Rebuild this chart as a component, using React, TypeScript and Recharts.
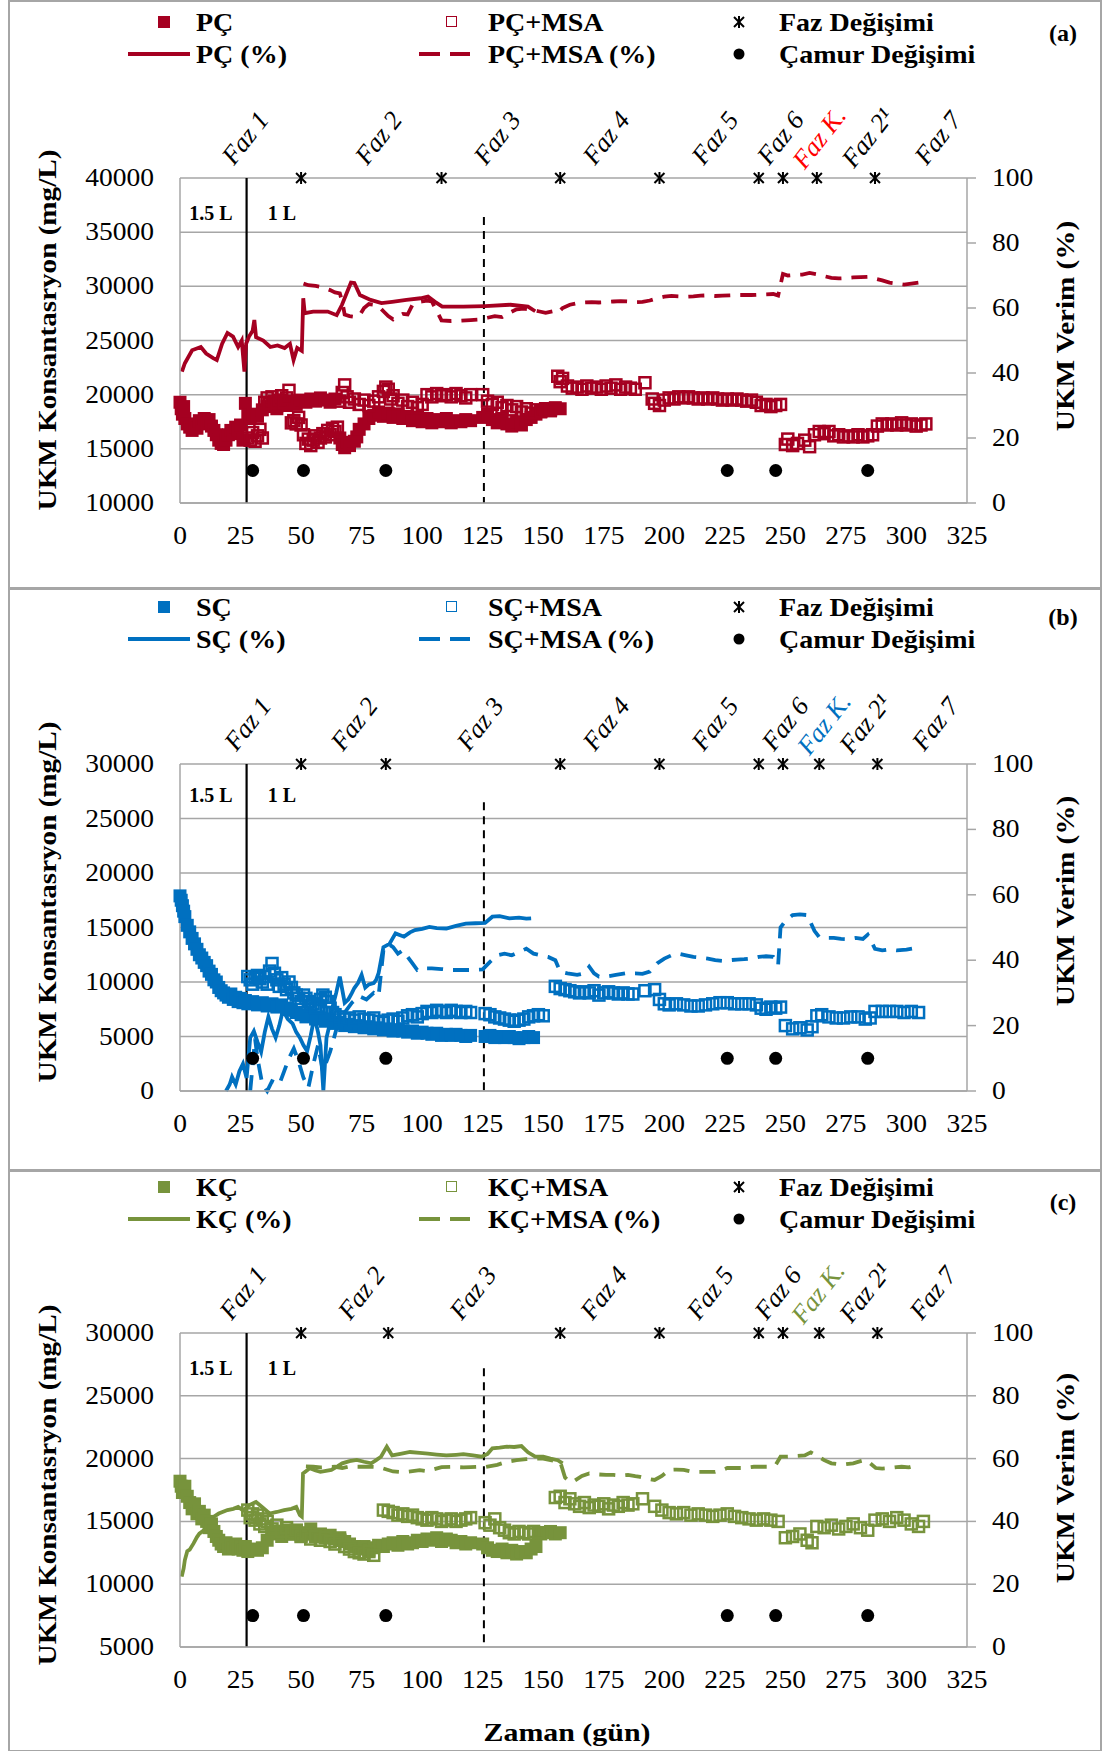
import React from 'react'
import { ComposedChart, Scatter, Line, XAxis, YAxis, CartesianGrid, ReferenceLine } from 'recharts'

type Pt = [number, number]

const FONT = '"Liberation Serif", "Times New Roman", serif'
const GRID = '#a6a6a6'

const dayTicks = [0, 25, 50, 75, 100, 125, 150, 175, 200, 225, 250, 275, 300, 325]
const pctTicks = [0, 20, 40, 60, 80, 100]
const phaseNames = ['Faz 1', 'Faz 2', 'Faz 3', 'Faz 4', 'Faz 5', 'Faz 6', 'Faz K.', 'Faz 2¹', 'Faz 7']
const sludgeDays = [30, 51, 85, 226, 246, 284]
const volumeLineDay = 27.5
const dashLineDay = 125.5

// ---- (a) PÇ
const aTicks = [10000, 15000, 20000, 25000, 30000, 35000, 40000]
const aStars = [50, 108, 157, 198, 239, 249, 263, 287]
const aPhaseAt = [27, 82, 131, 176, 221, 248, 264, 284, 313]
const aDashTop = 36400
const aFilled: Pt[] = [[0,19300],[0.5,18700],[1,18200],[1.5,18900],[2,17800],[3,17300],[4,17000],[5,16700],[6,17200],[7,16900],[8,17600],[9,17300],[10,17800],[11,17400],[12,17700],[13,17100],[14,16700],[15,16300],[16,15800],[17,15500],[18,15400],[19,15800],[20,16300],[21,16700],[22,16400],[23,17000],[24,16700],[25,17200],[26,15800],[27,19200],[28,18100],[29,17800],[30,18200],[32,18000],[34,18600],[36,18900],[38,19100],[40,18700],[42,19200],[44,19000],[46,19400],[48,19100],[50,19500],[52,19300],[54,19600],[56,19400],[58,19700],[60,19500],[62,19300],[64,19600],[66,16000],[67,15400],[68,15100],[69,15600],[70,15300],[72,15700],[73,16100],[74,16800],[76,17300],[78,17800],[80,18100],[82,18400],[84,18000],[86,18300],[88,17900],[90,18200],[92,17800],[94,18000],[96,17600],[98,17900],[100,17500],[102,17800],[104,17400],[106,17700],[108,17500],[110,17800],[112,17400],[114,17600],[116,17500],[118,17700],[120,17600],[125,17900],[127,18200],[129,17700],[131,17400],[133,17800],[135,17300],[137,17100],[139,17500],[141,17200],[143,17700],[145,17900],[147,18200],[149,18400],[151,18600],[153,18500],[155,18800],[157,18700]]
const aOpen: Pt[] = [[28,16000],[29,15800],[30,16500],[31,15700],[32,16200],[33,16800],[34,16000],[35,19300],[36,19700],[37,19200],[38,19800],[39,19400],[40,19000],[41,19500],[42,19900],[43,19300],[44,19700],[45,20400],[46,17400],[47,17600],[48,17300],[49,17900],[50,17200],[51,16300],[52,15500],[53,15900],[54,15300],[55,15800],[56,16200],[57,15600],[58,16000],[59,16400],[60,16100],[61,16700],[62,16300],[63,16900],[64,16600],[65,17000],[66,19400],[67,20200],[68,20900],[69,19800],[70,19300],[72,19600],[74,19100],[76,19500],[78,19000],[80,19400],[82,19800],[84,20300],[85,20700],[86,20500],[87,19600],[88,19900],[90,19200],[92,19500],[94,18900],[96,19300],[98,18800],[100,19100],[102,20000],[104,19800],[106,20100],[108,19900],[110,20000],[112,19800],[114,20100],[116,19900],[118,19700],[120,20000],[125,20000],[127,19400],[129,19100],[131,19300],[133,18800],[135,19000],[137,18600],[139,18900],[141,18400],[143,18700],[145,18300],[147,18600],[149,18500],[151,18700],[153,18600],[156,21700],[157,21200],[158,21500],[160,20800],[162,20600],[164,20700],[166,20500],[168,20800],[170,20600],[172,20700],[174,20500],[176,20800],[178,20600],[180,20900],[182,20500],[184,20700],[186,20600],[188,20500],[192,21100],[195,19600],[196,19200],[198,19000],[200,19500],[202,19700],[204,19600],[206,19800],[208,19700],[210,19800],[212,19700],[214,19600],[216,19700],[218,19600],[220,19700],[222,19600],[224,19500],[226,19600],[228,19500],[230,19600],[232,19500],[234,19400],[236,19500],[238,19300],[240,19000],[242,19100],[244,18900],[246,19000],[248,19100],[250,15400],[251,15900],[253,15300],[255,15500],[258,15800],[260,15200],[262,16300],[264,16600],[266,16400],[268,16600],[270,16200],[272,16300],[274,16100],[276,16200],[278,16100],[280,16300],[282,16100],[284,16200],[286,16300],[288,17100],[290,17300],[292,17200],[294,17300],[296,17200],[298,17400],[300,17200],[302,17300],[304,17100],[306,17200],[308,17300]]
const aPct: Pt[] = [[0.8,40.4],[2,43],[5,47],[8.6,48],[10.8,46],[13.7,44.6],[15.2,44],[17.4,49],[19.6,52.3],[21.9,51.2],[24,48],[25.5,50],[26.6,40.4],[27.3,49],[28.5,51.2],[30,53],[30.7,56.3],[31.4,51],[34.4,50],[37.3,48],[40.3,48.5],[43.2,47.7],[45.4,49],[46.9,44],[48.4,47.7],[50.3,46.8],[50.9,63],[51.5,58.4],[55,58.9],[61,58.9],[64.7,57.8],[66.9,61],[70.6,67.8],[72,67.7],[74.3,64],[78.7,62.5],[83.2,61.5],[87.6,61.9],[93.5,62.5],[99.4,63],[102.4,63.5],[105.3,61.9],[108.3,60.4],[117,60.4],[126,60.6],[136.4,61],[143.7,60.4],[146.7,59]]
const aPctMsa: Pt[] = [[51,67.5],[53,67],[56,66.8],[58,66.5],[60,66],[62,65.5],[64,64.8],[66,64.5],[67,62],[68,58],[70,57.5],[72,57.3],[74,57.5],[76,60],[78,61.2],[80,61],[82,60.5],[84,59],[86,57.5],[88,56.5],[90,57.5],[92,58.2],[94,58],[96,61],[98,61.8],[100,62],[102,62.3],[104,62],[108,56.2],[112,56],[116,56.1],[120,56.3],[124,56.5],[127,57],[130,57.5],[133,57.2],[136,58.5],[139,59.6],[142,59.8],[145,59.5],[148,59],[151,58.5],[154,59],[156,58.5],[158,60],[161,61],[164,61.5],[167,61.7],[170,61.8],[173,61.7],[176,61.8],[179,62],[182,62.1],[185,62],[188,61.8],[191,61.9],[194,62.3],[197,63],[200,63.5],[203,63.7],[206,63.6],[209,63.5],[212,63.6],[215,63.8],[218,63.9],[221,63.7],[224,63.8],[227,63.9],[230,64],[233,64],[236,64],[239,64.1],[242,64.2],[245,64.3],[247,63.8],[249,70.5],[251,70],[254,70.2],[257,70.3],[260,70.8],[263,70.4],[266,69.8],[269,69.3],[272,69.1],[275,69.2],[278,69.4],[281,69.5],[284,69.6],[287,69],[290,68.5],[293,67.8],[296,67.5],[299,67.2],[302,67.5],[305,67.8]]

// ---- (b) SÇ
const bTicks = [0, 5000, 10000, 15000, 20000, 25000, 30000]
const bStars = [50, 85, 157, 198, 239, 249, 264, 288]
const bPhaseAt = [28, 72, 124, 176, 221, 250, 266, 283, 312]
const bDashTop = 26500
const bFilled: Pt[] = [[0,17900],[0.5,17500],[1,17000],[1.5,16500],[2,16000],[3,15200],[4,14600],[5,14000],[6,13500],[7,13000],[8,12500],[9,12200],[10,11800],[11,11500],[12,11000],[13,10700],[14,10200],[15,10000],[16,9500],[17,9200],[18,9000],[19,8800],[20,8600],[21,8900],[22,8400],[23,8600],[24,8200],[25,8500],[26,8100],[27,8300],[28,8000],[30,8200],[32,7900],[34,8100],[36,7800],[38,8000],[40,7700],[42,7900],[44,7600],[46,7400],[48,7200],[50,7000],[52,6800],[54,6900],[56,6600],[58,6700],[60,6400],[62,6500],[64,6200],[66,6300],[68,6000],[70,6100],[72,5900],[74,6000],[76,5800],[78,5900],[80,5700],[82,5800],[84,5600],[86,5700],[88,5500],[90,5600],[92,5500],[94,5400],[96,5500],[98,5300],[100,5400],[102,5300],[104,5200],[106,5300],[108,5100],[110,5200],[112,5100],[114,5200],[116,5100],[118,5000],[120,5100],[126,5000],[128,5100],[130,4900],[132,5000],[134,4900],[136,5000],[138,4900],[140,4800],[142,4900],[144,5000],[146,4900]]
const bOpen: Pt[] = [[28,10500],[29,10200],[30,9800],[31,10400],[32,10600],[33,10300],[34,10000],[35,10500],[36,9800],[37,11000],[38,11700],[39,10800],[40,10200],[41,9600],[42,10400],[43,9800],[44,9300],[45,10000],[46,9500],[47,9000],[48,8800],[49,8500],[50,8200],[51,8800],[52,8500],[53,8200],[54,7800],[55,8000],[56,7600],[57,7800],[58,8400],[59,8800],[60,8600],[61,8200],[62,7600],[63,7200],[64,7000],[66,6800],[68,6600],[70,6700],[72,6500],[74,6800],[76,6600],[78,6500],[80,6700],[82,6400],[84,6300],[86,6500],[88,6600],[90,6400],[92,6700],[94,6900],[96,7000],[98,6800],[100,7100],[102,7300],[104,7200],[106,7400],[108,7300],[110,7200],[112,7400],[114,7300],[116,7200],[118,7300],[120,7200],[126,7100],[128,7000],[130,6800],[132,6700],[134,6600],[136,6500],[138,6400],[140,6500],[142,6600],[144,6800],[146,6900],[148,7000],[150,6900],[155,9600],[157,9400],[159,9300],[161,9200],[163,9100],[165,9000],[167,9100],[169,9000],[171,9200],[173,8800],[175,9000],[177,9100],[179,9000],[181,8900],[183,9000],[185,8900],[187,8900],[192,9200],[196,9300],[198,8400],[200,8000],[202,7900],[205,8000],[208,7900],[211,7800],[214,7800],[217,7900],[220,8000],[223,8100],[226,8100],[229,8000],[232,8000],[235,8000],[238,7900],[240,7600],[242,7500],[244,7700],[246,7600],[248,7700],[250,6000],[253,5700],[256,5800],[259,5600],[261,5900],[263,6900],[265,7000],[268,6800],[271,6700],[274,6700],[277,6800],[280,6800],[283,6600],[285,6700],[287,7300],[290,7300],[293,7300],[296,7300],[299,7200],[302,7300],[305,7200]]
const bPct: Pt[] = [[19,0],[20.5,2],[21.5,4.3],[23,2],[24.5,6],[26,8.3],[27.5,4],[29,16.3],[30.5,18.3],[32,15],[33.5,12],[35,18],[36.5,22.7],[38,19],[39.5,16.3],[41,20],[42.5,24.7],[44.5,22],[46.5,20.6],[48,18],[49.5,16.3],[51,14],[52.5,12.2],[54,17],[55.5,22.7],[57,18],[58,14],[59.2,0],[60.5,16.3],[62,21],[63,25.7],[64.5,30],[66,35],[67,31],[68,27],[69.5,28],[71,30],[72,31.5],[73.5,33],[75,35.5],[76.5,31.6],[78,32.6],[80,33],[81,34],[82,36],[84,44],[86.5,45],[89,48.2],[92.5,47.2],[95,48.5],[97,49.2],[100,49.6],[103,50.2],[106,49.8],[110,49.7],[114,50.5],[118,51.2],[122,51.3],[126,51.4],[129,53.3],[132,53.5],[136,52.8],[140,53],[143,52.7],[145,52.8]]
const bPctMsa: Pt[] = [[29,0],[30,8],[31,16],[32,10],[34,2],[36,0],[38,3],[41,2],[43,6],[45,10],[47,13],[49,9],[51,4],[53,1],[55,8],[57,14],[59,6],[62,12],[65,20],[68,24],[71,27],[74,29],[77,28],[80,30],[82,29],[84,43],[86,45],[88,44],[90,42],[92,43],[94,41],[96,39],[98,37],[100,37.5],[104,37.5],[108,37.3],[112,37],[116,37],[120,37],[125,37.2],[128,39.5],[131,41.5],[134,42],[137,41.5],[140,42.5],[143,43.5],[146,42],[149,41.5],[152,41],[155,40],[157,36.5],[160,36],[164,35.5],[167,36],[169,38],[171,36],[173,35],[176,35],[180,35.5],[184,36],[188,36],[191,35.8],[194,36.5],[197,39],[200,40.5],[203,41.5],[206,42],[209,41.5],[212,41],[215,40.8],[218,40.5],[221,40],[224,39.8],[227,40],[230,40.2],[233,40.3],[236,40.5],[239,41],[242,41.2],[245,41],[247,38.5],[248,50],[250,52],[253,53.8],[256,54],[259,53.8],[262,49],[264,47],[267,46.8],[270,46.8],[273,46.5],[276,46.4],[279,46.8],[282,46.5],[284,47.8],[287,43.5],[290,43],[293,43.3],[296,43],[300,43.2],[303,43.6],[305,44]]

// ---- (c) KÇ
const cTicks = [5000, 10000, 15000, 20000, 25000, 30000]
const cStars = [50, 86, 157, 198, 239, 249, 264, 288]
const cPhaseAt = [26, 75, 121, 175, 219, 247, 263.5, 283, 311]
const cDashTop = 27200
const cFilled: Pt[] = [[0,18200],[0.5,17800],[1,17300],[2,17800],[3,17000],[4,16500],[5,16000],[6,16400],[7,15600],[8,15800],[9,15200],[10,15500],[11,15000],[12,14500],[13,14800],[14,14200],[15,13800],[16,13500],[17,13200],[18,13000],[19,13300],[20,12800],[21,13100],[22,12900],[23,13200],[24,12800],[25,13000],[26,12700],[27,13000],[28,12600],[30,12800],[32,12700],[34,12900],[36,13500],[38,14000],[40,14200],[42,13800],[44,14300],[46,14000],[48,14200],[50,13900],[52,14100],[54,14400],[56,13800],[58,14000],[60,13700],[62,13900],[64,13600],[66,13700],[68,13400],[70,13200],[72,13000],[74,12800],[76,13000],[78,12700],[80,12900],[82,13100],[84,13000],[86,13200],[88,13300],[90,13100],[92,13400],[94,13200],[96,13300],[98,13500],[100,13400],[102,13600],[104,13500],[106,13700],[108,13400],[110,13600],[112,13500],[114,13300],[116,13400],[118,13200],[120,13300],[125,13200],[127,12900],[129,12700],[131,12600],[133,12800],[135,12500],[137,12700],[139,12400],[141,12600],[143,12500],[145,12800],[147,13000],[149,14000],[151,14100],[153,14200],[155,14000],[157,14100]]
const cOpen: Pt[] = [[28,15900],[29,15300],[30,15600],[31,15100],[32,15500],[33,14800],[34,15200],[35,14600],[36,15000],[38,14400],[40,14700],[42,14200],[44,14500],[46,14000],[48,14300],[50,13800],[52,14000],[54,13600],[56,13800],[58,13500],[60,13700],[62,13400],[64,13200],[66,13500],[68,13000],[70,12800],[72,12600],[74,12500],[76,12400],[78,12600],[80,12300],[84,15900],[86,15800],[88,15700],[90,15500],[92,15600],[94,15400],[96,15500],[98,15300],[100,15200],[102,15100],[104,15300],[106,15200],[108,15000],[110,15100],[112,15200],[114,15000],[116,15100],[118,15200],[120,15300],[126,14900],[128,14700],[130,15200],[132,14500],[134,14300],[136,14100],[138,14000],[140,14200],[142,14100],[144,14000],[146,14200],[148,14100],[155,16900],[157,17000],[159,16500],[161,16800],[163,16400],[165,16200],[167,16500],[169,16100],[171,16300],[173,16200],[175,16400],[177,16000],[179,16300],[181,16200],[183,16500],[185,16300],[187,16400],[191,16800],[196,16200],[199,15900],[202,15700],[205,15600],[208,15700],[211,15500],[214,15600],[217,15500],[220,15400],[223,15500],[226,15600],[229,15400],[232,15300],[235,15200],[238,15100],[241,15200],[244,15100],[247,15000],[250,13700],[253,13800],[256,14000],[259,13500],[261,13300],[263,14600],[266,14500],[269,14700],[272,14400],[275,14600],[278,14800],[281,14500],[284,14300],[287,15100],[290,15200],[293,15000],[296,15300],[299,15100],[302,14800],[305,14600],[307,15000]]
const cPct: Pt[] = [[0.7,22.4],[1.5,25],[2,27.7],[3,30.5],[4,31],[5.6,33],[7,35],[8,36.1],[10,37.3],[12,39.5],[14,41.5],[16,42.5],[19.6,43.6],[22,44],[24,44.6],[26,43.5],[28.5,45.1],[31.4,46.2],[34,44.5],[37,42.5],[40,43],[43,43.6],[46,44],[48,44.6],[49.5,42],[50.3,41.5],[50.8,55.3],[53.6,56.9],[56,56.2],[58,55.8],[62.5,56.4],[65,57.5],[67,58.5],[70,59.2],[73,59.6],[76,59],[79,58.5],[81,59.5],[83,60.6],[85.4,63.8],[87.6,61],[91,61.5],[95,62.1],[99,61.8],[102.4,61.6],[106,61.3],[110,61],[114,61.2],[117,61.4],[121,61],[124.5,60.6],[127,61.5],[129,63.3],[132,63.5],[135,63.8],[138,63.7],[141,64],[143.7,62],[146.7,60.6],[150,60.6],[153,60],[156,59.5],[158,58.5]]
const cPctMsa: Pt[] = [[52,57.5],[55,57.4],[58,57.2],[64,57.4],[67,57],[70,57.5],[73,57.4],[79,57.4],[82,57.3],[88,55.9],[91,55.7],[94,55.8],[99,56.3],[102,56],[108,57.3],[112,57.4],[117,57.2],[120,57.3],[123,57.4],[126,57.3],[131,58],[135,59],[139,59.5],[143,59.8],[147,60],[150,60],[153,59.5],[157,59],[159,54],[161,52.5],[163,53],[166,54.5],[169,55.3],[172,55],[176,54.8],[179,54.8],[182,54.6],[185,54.8],[188,54.4],[190,54.2],[193,53.6],[196,53.2],[199,54.5],[202,56.4],[205,56.5],[208,56.4],[211,55.9],[214,55.8],[217,55.8],[221,55.8],[224,56.4],[226,57],[229,57],[232,57],[235,57.2],[237,57.4],[240,57.4],[243,57.4],[246,58],[248,60.6],[251,60.6],[254,60.8],[258,61],[260.5,62],[263,61],[266,59.5],[269,58.5],[272,58.2],[275,58.2],[278,58.5],[281,59.2],[283,59.6],[285,58.5],[287.3,57],[290,56.8],[293,57],[296,57.3],[298,57.4],[301,57.2],[304,57.8]]

const toXY = (pts: Pt[]) => pts.map(([x, y]) => ({ x, y }))

const filledSquare = (color: string) => (p: any) =>
  <rect x={p.cx - 6.5} y={p.cy - 6.5} width={13} height={13} fill={color} />
const openSquare = (color: string) => (p: any) =>
  <rect x={p.cx - 5.5} y={p.cy - 5.5} width={11} height={11} fill="none" stroke={color} strokeWidth={2.5} />
const starShape = (p: any) => (
  <g stroke="#000" strokeWidth={2}>
    <line x1={p.cx} y1={p.cy - 6} x2={p.cx} y2={p.cy + 6} />
    <line x1={p.cx - 5} y1={p.cy - 5} x2={p.cx + 5} y2={p.cy + 5} />
    <line x1={p.cx + 5} y1={p.cy - 5} x2={p.cx - 5} y2={p.cy + 5} />
  </g>
)
const dotShape = (p: any) => <circle cx={p.cx} cy={p.cy} r={6.5} fill="#000" />

const tick = (anchor: 'start' | 'end' | 'middle', dx: number, dy: number) => (p: any) => (
  <g transform={`translate(${p.x + dx},${p.y + dy})`}>
    <text transform="scale(1.1,1)" textAnchor={anchor} dominantBaseline="central" fontFamily={FONT} fontSize={25} fill="#000">
      {p.payload.value}
    </text>
  </g>
)

const txt = (extra: React.CSSProperties): React.CSSProperties => ({
  position: 'absolute', fontFamily: FONT, fontSize: 25, lineHeight: 1, whiteSpace: 'nowrap', color: '#000', ...extra,
})

interface PanelProps {
  top: number; height: number; plotTop: number; plotBottom: number
  color: string; kColor: string; code: string; tag: string
  rows: [number, number]; tagY: number
  yTicks: number[]; stars: number[]; phaseAt: number[]; dashTop: number
  filled: Pt[]; open: Pt[]; pct: Pt[]; pctMsa: Pt[]
  litreY: number; titleY: number; rTitleY: number
}

function Panel(p: PanelProps) {
  const yMin = p.yTicks[0]
  const yMax = p.yTicks[p.yTicks.length - 1]
  const phaseData = p.phaseAt.map((x, i) => ({ x, y: yMax, name: phaseNames[i] }))
  const phaseShape = (s: any) => {
    const name = s.payload.name
    const cy = s.cy - 40
    return (
      <text x={s.cx} y={cy} transform={`rotate(-52 ${s.cx} ${cy})`} textAnchor="middle" dominantBaseline="central"
        fontFamily={FONT} fontStyle="italic" fontSize={26} fill={name === 'Faz K.' ? p.kColor : '#000'}>
        {name}
      </text>
    )
  }
  const [r1, r2] = p.rows
  const legendText = (left: number, top: number) =>
    txt({ left, top, transform: 'translateY(-50%) scaleX(1.12)', transformOrigin: 'left', fontWeight: 700 })
  return (
    <div style={{ position: 'absolute', left: 0, top: p.top, width: 1103, height: p.height }}>
      <div style={{ position: 'absolute', left: 8, top: 0, width: 1090, height: p.height - 3, border: '2px solid #a6a6a6' }} />
      {/* legend */}
      <div style={{ position: 'absolute', left: 158, top: r1 - 6, width: 12, height: 12, background: p.color }} />
      <div style={legendText(196, r1)}>{p.code}</div>
      <div style={{ position: 'absolute', left: 128, top: r2 - 2, width: 62, height: 4, background: p.color }} />
      <div style={legendText(196, r2)}>{p.code} (%)</div>
      <div style={{ position: 'absolute', left: 446, top: r1 - 6, width: 9, height: 9, border: `1.5px solid ${p.color}` }} />
      <div style={legendText(488, r1)}>{p.code}+MSA</div>
      <div style={{ position: 'absolute', left: 419, top: r2 - 2, width: 21, height: 4, background: p.color }} />
      <div style={{ position: 'absolute', left: 450, top: r2 - 2, width: 20, height: 4, background: p.color }} />
      <div style={legendText(488, r2)}>{p.code}+MSA (%)</div>
      <svg style={{ position: 'absolute', left: 729, top: r1 - 10 }} width={20} height={20}>
        {starShape({ cx: 10, cy: 10 })}
      </svg>
      <div style={legendText(779, r1)}>Faz Değişimi</div>
      <svg style={{ position: 'absolute', left: 729, top: r2 - 10 }} width={20} height={20}>
        <circle cx={10} cy={10} r={5.5} fill="#000" />
      </svg>
      <div style={legendText(779, r2)}>Çamur Değişimi</div>
      <div style={txt({ left: 1063, top: p.tagY, transform: 'translate(-50%,-50%)', fontWeight: 700, fontSize: 24 })}>{p.tag}</div>

      <div style={{ position: 'absolute', left: 0, top: 0 }}>
        <ComposedChart width={1103} height={p.height} margin={{ top: p.plotTop, right: 0, bottom: p.height - p.plotBottom - 60, left: 0 }}>
          <CartesianGrid yAxisId="L" vertical={false} stroke={GRID} strokeWidth={1.5} />
          <XAxis dataKey="x" type="number" domain={[0, 325]} ticks={dayTicks} interval={0} height={60}
            axisLine={{ stroke: GRID, strokeWidth: 1.5 }} tickLine={false} tick={tick('middle', 0, 25)} />
          <YAxis yAxisId="L" dataKey="y" type="number" domain={[yMin, yMax]} ticks={p.yTicks} interval={0} width={180}
            axisLine={{ stroke: GRID, strokeWidth: 1.5 }} tickLine={false} tick={tick('end', -18, 0)} />
          <YAxis yAxisId="R" orientation="right" dataKey="y" type="number" domain={[0, 100]} ticks={pctTicks} interval={0} width={136}
            axisLine={{ stroke: GRID, strokeWidth: 1.5 }} tickLine={{ stroke: GRID, strokeWidth: 1.5 }} tickSize={9}
            tick={tick('start', 14, 0)} />
          <ReferenceLine yAxisId="L" x={volumeLineDay} stroke="#000" strokeWidth={2.2} />
          <ReferenceLine yAxisId="L" segment={[{ x: dashLineDay, y: p.dashTop }, { x: dashLineDay, y: yMin }]}
            stroke="#000" strokeWidth={2} strokeDasharray="8 6" />
          <Scatter yAxisId="L" data={toXY(p.filled)} dataKey="y" shape={filledSquare(p.color)} isAnimationActive={false} />
          <Scatter yAxisId="L" data={toXY(p.open)} dataKey="y" shape={openSquare(p.color)} isAnimationActive={false} />
          <Line yAxisId="R" data={toXY(p.pct)} dataKey="y" stroke={p.color} strokeWidth={3.8} dot={false} isAnimationActive={false} />
          <Line yAxisId="R" data={toXY(p.pctMsa)} dataKey="y" stroke={p.color} strokeWidth={3.8} strokeDasharray="16 10" dot={false} isAnimationActive={false} />
          <Scatter yAxisId="R" data={sludgeDays.map((x) => ({ x, y: 10 }))} dataKey="y" shape={dotShape} isAnimationActive={false} />
          <Scatter yAxisId="L" data={p.stars.map((x) => ({ x, y: yMax }))} dataKey="y" shape={starShape} isAnimationActive={false} />
          <Scatter yAxisId="L" data={phaseData} dataKey="y" shape={phaseShape} isAnimationActive={false} />
        </ComposedChart>
      </div>

      <div style={txt({ left: 211, top: p.litreY, transform: 'translate(-50%,-50%)', fontWeight: 700, fontSize: 20 })}>1.5 L</div>
      <div style={txt({ left: 282, top: p.litreY, transform: 'translate(-50%,-50%)', fontWeight: 700, fontSize: 20 })}>1 L</div>
      <div style={txt({ left: 48, top: p.titleY, transform: 'translate(-50%,-50%) rotate(-90deg) scaleX(1.12)', fontWeight: 700, fontSize: 26 })}>
        UKM Konsantasryon (mg/L)
      </div>
      <div style={txt({ left: 1066, top: p.rTitleY, transform: 'translate(-50%,-50%) rotate(-90deg) scaleX(1.12)', fontWeight: 700, fontSize: 26 })}>
        UKM Verim (%)
      </div>
    </div>
  )
}

export default function App() {
  return (
    <div style={{ position: 'absolute', left: 0, top: 0, width: 1103, height: 1751, background: '#fff' }}>
      <Panel top={0} height={588} plotTop={178} plotBottom={503} color="#a50021" kColor="#ff0000" code="PÇ" tag="(a)"
        rows={[22, 54]} tagY={33} yTicks={aTicks} stars={aStars} phaseAt={aPhaseAt} dashTop={aDashTop}
        filled={aFilled} open={aOpen} pct={aPct} pctMsa={aPctMsa} litreY={213} titleY={330} rTitleY={326} />
      <Panel top={588} height={582} plotTop={176} plotBottom={503} color="#0070c0" kColor="#0070c0" code="SÇ" tag="(b)"
        rows={[19, 51]} tagY={29} yTicks={bTicks} stars={bStars} phaseAt={bPhaseAt} dashTop={bDashTop}
        filled={bFilled} open={bOpen} pct={bPct} pctMsa={bPctMsa} litreY={207} titleY={314} rTitleY={313} />
      <Panel top={1170} height={581} plotTop={163} plotBottom={477} color="#77933c" kColor="#77933c" code="KÇ" tag="(c)"
        rows={[17, 49]} tagY={32} yTicks={cTicks} stars={cStars} phaseAt={cPhaseAt} dashTop={cDashTop}
        filled={cFilled} open={cOpen} pct={cPct} pctMsa={cPctMsa} litreY={198} titleY={315} rTitleY={308} />
      <div style={txt({ left: 567, top: 1733, transform: 'translate(-50%,-50%) scaleX(1.15)', fontWeight: 700, fontSize: 26 })}>
        Zaman (gün)
      </div>
    </div>
  )
}
